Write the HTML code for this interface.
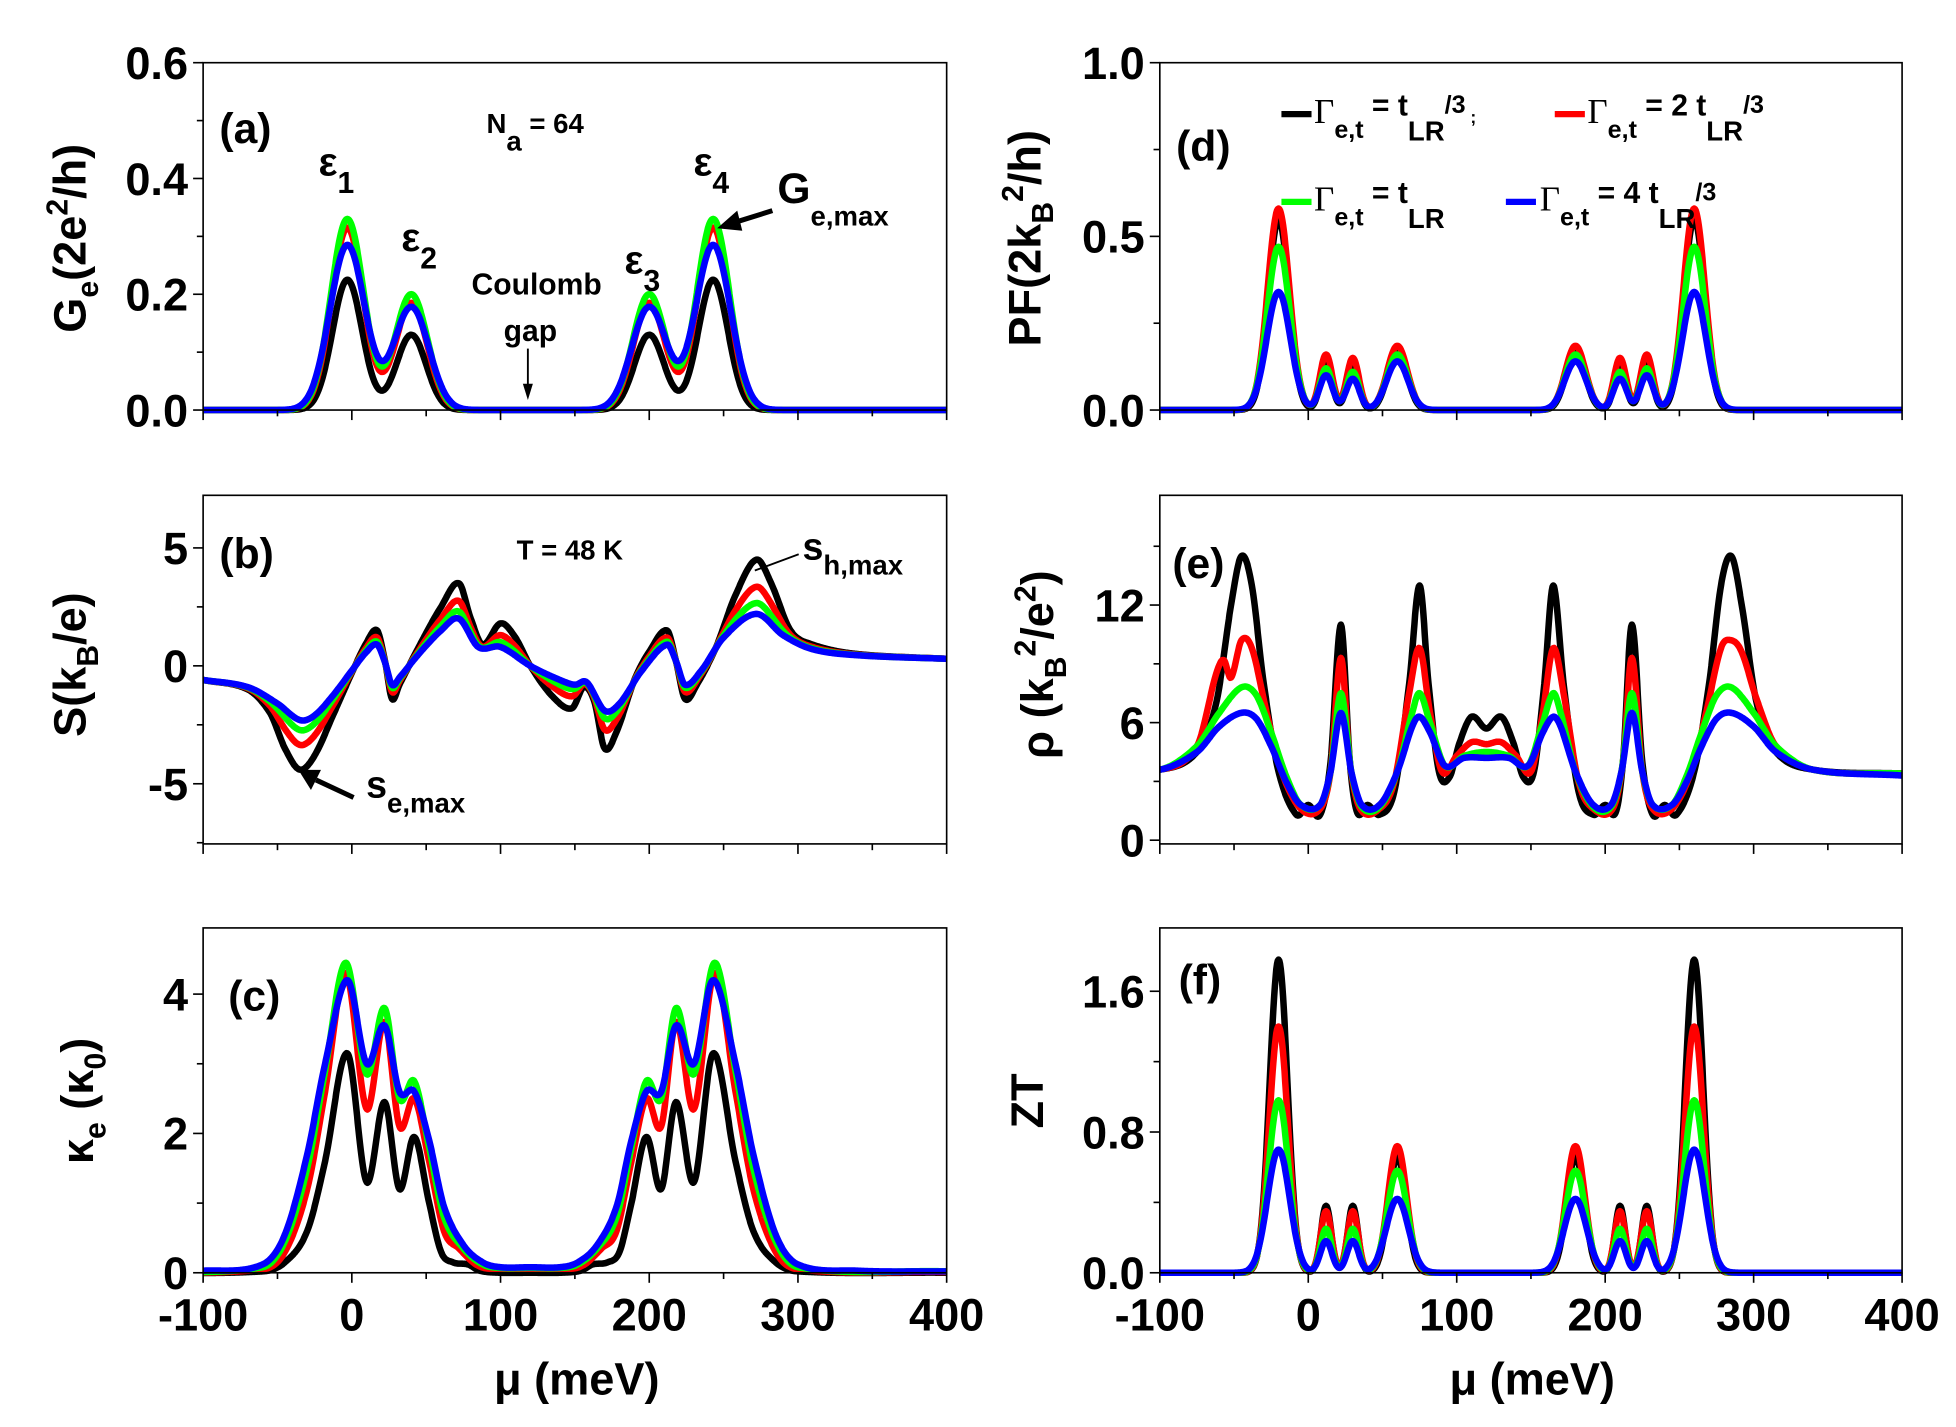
<!DOCTYPE html>
<html><head><meta charset="utf-8"><style>
html,body{margin:0;padding:0;background:#fff;}
svg{display:block;}
text{font-family:"Liberation Sans",sans-serif;font-weight:bold;fill:#000;}
.g{font-family:"Liberation Serif",serif;font-weight:normal;}
</style></head><body>
<svg id="s" width="1956" height="1427" viewBox="0 0 1560 1138" preserveAspectRatio="none" xmlns="http://www.w3.org/2000/svg">
<g id="plots"></g>
<g id="axes" stroke="#000" fill="none" stroke-width="1.3"></g>
<g id="labels"></g>
<g font-size="34">
<text x="175" y="114">(a)</text>
<text x="175" y="453">(b)</text>
<text x="182" y="806">(c)</text>
<text x="938" y="128">(d)</text>
<text x="935" y="461">(e)</text>
<text x="940" y="793">(f)</text>
</g>
<text x="388" y="106" font-size="22">N<tspan font-size="22" dy="14">a</tspan><tspan dy="-14"> = 64</tspan></text>
<text x="254" y="140" font-size="32">ε<tspan font-size="24" dy="14">1</tspan></text>
<text x="320" y="200" font-size="32">ε<tspan font-size="24" dy="14">2</tspan></text>
<text x="498" y="218" font-size="32">ε<tspan font-size="24" dy="14">3</tspan></text>
<text x="553" y="140" font-size="32">ε<tspan font-size="24" dy="14">4</tspan></text>
<text x="428" y="235" font-size="24" text-anchor="middle">Coulomb</text>
<text x="423" y="272" font-size="24" text-anchor="middle">gap</text>
<line x1="421" y1="278" x2="421" y2="308" stroke="#000" stroke-width="1.5"/>
<polygon points="417,306 425,306 421,319" fill="#000"/>
<text x="620" y="162" font-size="34">G<tspan font-size="22" dy="18">e,max</tspan></text>
<line x1="616" y1="168" x2="584" y2="178" stroke="#000" stroke-width="4"/>
<polygon points="572,182 588,168 592,184" fill="#000"/>
<text x="412" y="446" font-size="22">T = 48 K</text>
<text x="640" y="446" font-size="30">s<tspan font-size="22" dy="12">h,max</tspan></text>
<line x1="637" y1="442" x2="602" y2="455" stroke="#000" stroke-width="1.5"/>
<text x="292" y="636" font-size="30">s<tspan font-size="22" dy="12">e,max</tspan></text>
<line x1="282" y1="636" x2="252" y2="622" stroke="#000" stroke-width="4"/>
<polygon points="238,614 256,614 248,630" fill="#000"/>
<g font-size="24">
<line x1="1022" y1="91" x2="1046" y2="91" stroke="#000" stroke-width="5"/>
<text x="1048" y="98"><tspan class="g" font-size="28">Γ</tspan><tspan font-size="20" dy="12">e,t</tspan><tspan dy="-18"> = t</tspan><tspan font-size="22" dy="20">LR</tspan><tspan font-size="20" dy="-22">/3</tspan><tspan dy="8" font-size="14">  ;</tspan></text>
<line x1="1240" y1="91" x2="1264" y2="91" stroke="#f00" stroke-width="5"/>
<text x="1266" y="98"><tspan class="g" font-size="28">Γ</tspan><tspan font-size="20" dy="12">e,t</tspan><tspan dy="-18"> = 2 t</tspan><tspan font-size="22" dy="20">LR</tspan><tspan font-size="20" dy="-22">/3</tspan></text>
<line x1="1022" y1="161" x2="1046" y2="161" stroke="#0f0" stroke-width="5"/>
<text x="1048" y="168"><tspan class="g" font-size="28">Γ</tspan><tspan font-size="20" dy="12">e,t</tspan><tspan dy="-18"> = t</tspan><tspan font-size="22" dy="20">LR</tspan></text>
<line x1="1201" y1="161" x2="1225" y2="161" stroke="#00f" stroke-width="5"/>
<text x="1228" y="168"><tspan class="g" font-size="28">Γ</tspan><tspan font-size="20" dy="12">e,t</tspan><tspan dy="-18"> = 4 t</tspan><tspan font-size="22" dy="20">LR</tspan><tspan font-size="20" dy="-22">/3</tspan></text>
</g>
<g font-size="36">
<text transform="translate(68,190) rotate(-90)" text-anchor="middle">G<tspan font-size="24" dy="10">e</tspan><tspan dy="-10">(2e</tspan><tspan font-size="24" dy="-14">2</tspan><tspan dy="14">/h)</tspan></text>
<text transform="translate(68,530) rotate(-90)" text-anchor="middle">S(k<tspan font-size="24" dy="10">B</tspan><tspan dy="-10">/e)</tspan></text>
<text transform="translate(74,878) rotate(-90)" text-anchor="middle">κ<tspan font-size="24" dy="10">e</tspan><tspan dy="-10"> (κ</tspan><tspan font-size="24" dy="10">0</tspan><tspan dy="-10">)</tspan></text>
<text transform="translate(830,190) rotate(-90)" text-anchor="middle">PF(2k<tspan font-size="24" dy="10">B</tspan><tspan font-size="24" dy="-24">2</tspan><tspan dy="14">/h)</tspan></text>
<text transform="translate(840,530) rotate(-90)" text-anchor="middle">ρ (k<tspan font-size="24" dy="10">B</tspan><tspan font-size="24" dy="-24">2</tspan><tspan dy="14">/e</tspan><tspan font-size="24" dy="-14">2</tspan><tspan dy="14">)</tspan></text>
<text transform="translate(832,878) rotate(-90)" text-anchor="middle">ZT</text>
<text x="460" y="1112" text-anchor="middle">μ (meV)</text>
<text x="1222" y="1112" text-anchor="middle">μ (meV)</text>
</g>
<defs>
<clipPath id="cL1"><rect x="162" y="0" width="593" height="1138"/></clipPath>
<clipPath id="cR1"><rect x="925" y="0" width="592" height="1138"/></clipPath>
</defs>
</svg>
<script>
(function(){
var NS="http://www.w3.org/2000/svg";
function el(p,t,a){var e=document.createElementNS(NS,t);for(var k in a)e.setAttribute(k,a[k]);p.appendChild(e);return e;}
function gauss(c,A,s){return function(x){var y=0;for(var i=0;i<c.length;i++){var d=x-c[i];y+=A[i]*Math.exp(-d*d/(2*s[i]*s[i]));}return y;};}
function spline(pts){return function(x){var n=pts.length;if(x<=pts[0][0])return pts[0][1];if(x>=pts[n-1][0])return pts[n-1][1];
 var i=0;while(pts[i+1][0]<x)i++;var p0=pts[Math.max(i-1,0)],p1=pts[i],p2=pts[i+1],p3=pts[Math.min(i+2,n-1)];
 var t=(x-p1[0])/(p2[0]-p1[0]);var h=p2[0]-p1[0];
 var m1=(p2[1]-p0[1])/(p2[0]-p0[0]||1)*h, m2=(p3[1]-p1[1])/(p3[0]-p1[0]||1)*h;
 var t2=t*t,t3=t2*t;return (2*t3-3*t2+1)*p1[1]+(t3-2*t2+t)*m1+(-2*t3+3*t2)*p2[1]+(t3-t2)*m2;};}
function mirror(pts,c){var o=pts.slice();for(var i=pts.length-2;i>=0;i--)o.push([2*c-pts[i][0],pts[i][1]]);return spline(o);}
var cols=["#000","#f00","#0f0","#00f"];
var L={x0:162,x1:755},R={x0:925,x1:1517};
var P=[
 {h:L,yt:50,yb:327,ymin:0,ymax:0.6,maj:[0,0.2,0.4,0.6],mn:0.1,fmt:1,xl:false},
 {h:L,yt:395,yb:673,ymin:-7.55,ymax:7.23,maj:[-5,0,5],mn:2.5,fmt:0,xl:false},
 {h:L,yt:740,yb:1015,ymin:0,ymax:4.95,maj:[0,2,4],mn:1,fmt:0,xl:true},
 {h:R,yt:50,yb:327,ymin:0,ymax:1.0,maj:[0,0.5,1.0],mn:0.25,fmt:1,xl:false},
 {h:R,yt:395,yb:673,ymin:-0.19,ymax:17.6,maj:[0,6,12],mn:3,fmt:0,xl:false},
 {h:R,yt:740,yb:1015,ymin:0,ymax:1.96,maj:[0,0.8,1.6],mn:0.4,fmt:1,xl:true}];
var F=[];
var ca=[-3,40,200,243];
F[0]=[gauss(ca,[.225,.13,.13,.225],[10,10,10,10]),gauss(ca,[.315,.185,.185,.315],[10.8,10.8,10.8,10.8]),gauss(ca,[.33,.2,.2,.33],[11,11,11,11]),gauss(ca,[.285,.178,.178,.285],[11.8,11.8,11.8,11.8])];
var bk=spline([[-100,-0.6],[-70,-1],[-55,-2],[-45,-3.5],[-35,-4.4],[-25,-3.8],[-12,-2],[0,-0.3],[10,1],[17,1.5],[22,0.3],[27,-1.4],[32,-0.8],[45,0.8],[60,2.5],[72,3.5],[80,2],[88,0.9],[100,1.8],[110,1.2],[120,0],[135,-1.3],[148,-1.8],[156,-0.9],[163,-1.5],[170,-3.5],[178,-2.8],[190,-0.6],[200,0.6],[212,1.5],[218,0.2],[224,-1.4],[232,-0.8],[245,0.8],[258,3],[272,4.5],[282,3.5],[295,1.5],[310,0.9],[340,0.5],[400,0.3]]);
var bb=spline([[-100,-0.6],[-70,-0.9],[-50,-1.6],[-35,-2.3],[-25,-2.1],[-12,-1.2],[0,-0.2],[10,0.6],[17,0.9],[22,0.2],[27,-0.8],[32,-0.5],[45,0.5],[60,1.5],[72,2.0],[85,0.8],[100,0.8],[120,0],[140,-0.6],[150,-0.8],[158,-0.7],[170,-1.9],[180,-1.6],[195,-0.2],[212,0.9],[218,0.2],[224,-0.8],[235,-0.2],[250,1.2],[272,2.2],[290,1.3],[310,0.7],[340,0.45],[400,0.3]]);
F[1]=[bk,function(x){return bb(x)+0.5*(bk(x)-bb(x));},function(x){return bb(x)+0.2*(bk(x)-bb(x));},bb];
F[2]=[mirror([[-160,0],[-60,0.02],[-45,0.15],[-30,0.6],[-18,1.6],[-3,3.15],[10,1.3],[22,2.45],[32,1.2],[42,1.95],[52,1.0],[60,0.3],[68,0.15],[78,0.12],[86,0.03],[100,0],[120,0]],120),
 mirror([[-160,0.01],[-60,0.05],[-45,0.3],[-30,1.2],[-18,2.6],[-4,4.3],[10,2.35],[22,3.6],[32,2.1],[42,2.5],[52,1.6],[62,0.6],[72,0.35],[85,0.1],[100,0.05],[120,0.05]],120),
 mirror([[-160,0.02],[-60,0.08],[-45,0.45],[-30,1.5],[-18,2.9],[-4,4.45],[10,2.85],[22,3.8],[32,2.5],[42,2.75],[52,1.8],[62,0.8],[75,0.35],[88,0.12],[100,0.07],[120,0.07]],120),
 mirror([[-160,0.02],[-100,0.03],[-60,0.12],[-45,0.55],[-30,1.7],[-18,3.0],[-3,4.2],[10,3.0],[22,3.55],[32,2.6],[42,2.6],[52,1.9],[62,0.95],[75,0.4],[88,0.15],[100,0.08],[120,0.08]],120)];
var cd=[-20,12,30,60,180,210,228,260];
function sym(a){return a.concat(a.slice().reverse());}
F[3]=[gauss(cd,sym([.55,.13,.12,.17]),sym([7,4,4,6.5])),gauss(cd,sym([.58,.16,.15,.185]),sym([7.3,4.2,4.2,6.8])),gauss(cd,sym([.47,.12,.11,.16]),sym([7.6,4.3,4.3,7])),gauss(cd,sym([.34,.1,.09,.14]),sym([8,4.5,4.5,7.3]))];
var redL=mirror([[-160,3.4],[-100,3.6],[-75,4.8],[-62,8.5],[-57,9.2],[-52,8.3],[-45,10.2],[-38,9.8],[-28,6.5],[-18,3.5],[-5,1.6],[8,1.6],[15,3.5],[22,9.3],[28,4],[35,1.6],[48,1.6],[58,3],[68,7.5],[75,9.8],[82,6.5],[90,3.5],[100,4.3],[110,5],[120,4.9]],120);
var redR=mirror([[-160,3.4],[-100,3.6],[-75,4.8],[-62,7.2],[-52,9.6],[-45,10.2],[-38,9.8],[-28,6.5],[-18,3.5],[-5,1.6],[8,1.6],[15,3.5],[22,9.3],[28,4],[35,1.6],[48,1.6],[58,3],[68,7.5],[75,9.8],[82,6.5],[90,3.5],[100,4.3],[110,5],[120,4.9]],120);
F[4]=[mirror([[-160,3.4],[-100,3.6],[-75,4.5],[-62,7],[-52,12],[-45,14.5],[-38,13],[-30,8],[-20,3.5],[-8,1.3],[0,1.8],[8,1.3],[15,4],[22,11],[28,4],[33,1.4],[40,1.8],[48,1.3],[58,2.5],[68,8],[75,13],[81,8],[88,3.5],[95,3.2],[102,5],[110,6.3],[120,5.7]],120),
 function(x){return x<120?redL(x):redR(x);},
 mirror([[-160,3.4],[-100,3.6],[-75,4.8],[-60,6.5],[-45,7.8],[-35,7.4],[-25,5.5],[-15,3.3],[-5,1.8],[8,1.8],[15,3.5],[22,7.5],[29,3.5],[36,1.7],[48,1.7],[60,3.5],[70,6.5],[75,7.5],[82,6],[92,3.8],[105,4.3],[120,4.5]],120),
 mirror([[-160,3.3],[-100,3.6],[-75,4.5],[-60,5.8],[-45,6.5],[-35,6.2],[-25,4.8],[-15,3],[-5,1.8],[8,1.8],[15,3.5],[22,6.5],[29,3.5],[36,1.8],[48,1.8],[60,3.5],[70,5.8],[75,6.3],[82,5.5],[92,3.8],[105,4.2],[120,4.2]],120)];
F[5]=[gauss(cd,sym([1.78,.38,.38,.66]),sym([6,3.5,3.5,6])),gauss(cd,sym([1.4,.35,.35,.72]),sym([6.3,3.7,3.7,6.3])),gauss(cd,sym([.98,.25,.25,.58]),sym([6.8,3.8,3.8,6.8])),gauss(cd,sym([.7,.18,.18,.42]),sym([7.5,4,4,7.5]))];
var gp=document.getElementById("plots"),ga=document.getElementById("axes"),gl=document.getElementById("labels");
P.forEach(function(p,k){
 var sx=function(x){return p.h.x0+(x+100)/500*(p.h.x1-p.h.x0);};
 var sy=function(y){return p.yb-(y-p.ymin)/(p.ymax-p.ymin)*(p.yb-p.yt);};
 var clip=p.h===L?"url(#cL1)":"url(#cR1)";
 for(var c=0;c<4;c++){var d="";for(var x=-100;x<=400;x+=0.5){d+=(x==-100?"M":"L")+sx(x).toFixed(1)+","+sy(F[k][c](x)).toFixed(1);}
  el(gp,"path",{d:d,fill:"none",stroke:cols[c],"stroke-width":5.2,"stroke-linejoin":"round","clip-path":clip});}
 el(ga,"rect",{x:p.h.x0,y:p.yt,width:p.h.x1-p.h.x0,height:p.yb-p.yt});
 for(var x=-100;x<=400;x+=50){var X=sx(x);el(ga,"line",{x1:X,y1:p.yb,x2:X,y2:p.yb+(x%100==0?8:5)});
  if(p.xl&&x%100==0){var t=el(gl,"text",{x:X,y:p.yb+46,"text-anchor":"middle","font-size":36});t.textContent=String(x);}}
 for(var y=Math.ceil(p.ymin/p.mn)*p.mn;y<=p.ymax+1e-9;y+=p.mn){var Y=sy(y);var isM=p.maj.some(function(m){return Math.abs(m-y)<1e-6;});
  el(ga,"line",{x1:p.h.x0,y1:Y,x2:p.h.x0-(isM?8:5),y2:Y});}
 p.maj.forEach(function(m){var t=el(gl,"text",{x:p.h.x0-12,y:sy(m)+13,"text-anchor":"end","font-size":36});t.textContent=p.fmt?m.toFixed(1):String(m);});
});
})();
</script>
</body></html>
